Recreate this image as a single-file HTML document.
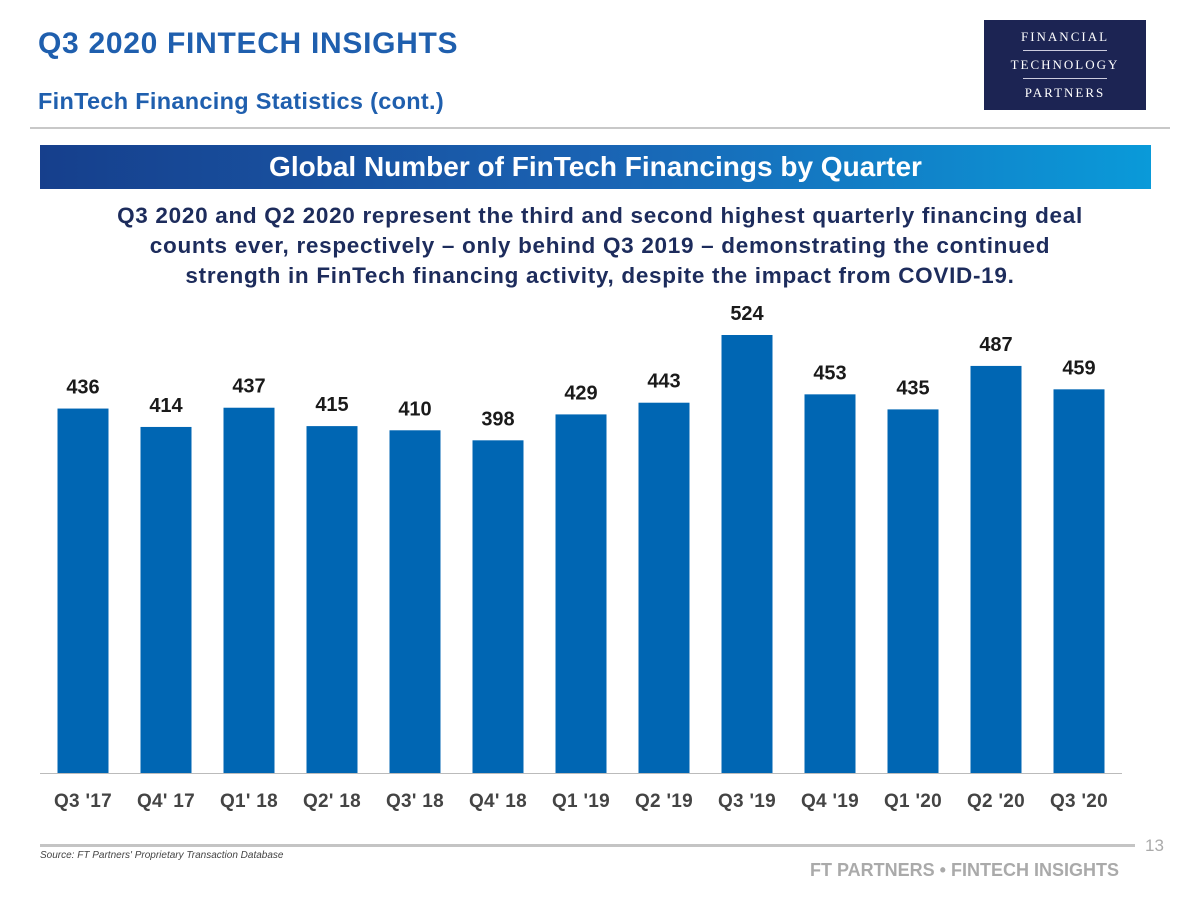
<!DOCTYPE html>
<html><head><meta charset="utf-8"><style>
body{margin:0;width:1200px;height:900px;background:#fff;position:relative;font-family:"Liberation Sans",sans-serif;overflow:hidden}
.abs{position:absolute}
</style></head><body>
<div class="abs" style="left:38px;top:27px;font-size:30px;font-weight:bold;color:#1f5fae;letter-spacing:0.7px">Q3 2020 FINTECH INSIGHTS</div>
<div class="abs" style="left:38px;top:88px;font-size:23.5px;font-weight:bold;color:#1f5fae;letter-spacing:0.3px">FinTech Financing Statistics (cont.)</div>
<div class="abs" style="left:984px;top:20px;width:162px;height:90px;background:#1c2453;color:#fff;font-family:'Liberation Serif',serif;font-size:13px;letter-spacing:2px;text-align:center">
 <div style="margin-top:9px">FINANCIAL</div>
 <div style="width:84px;height:1px;background:#ccd;margin:5px auto 6px"></div>
 <div>TECHNOLOGY</div>
 <div style="width:84px;height:1px;background:#ccd;margin:5px auto 6px"></div>
 <div>PARTNERS</div>
</div>
<div class="abs" style="left:30px;top:127px;width:1140px;height:2px;background:#c8c8c8"></div>
<div class="abs" style="left:40px;top:145px;width:1111px;height:44px;background:linear-gradient(90deg,#163f8c,#1a63b3 50%,#0a9ad9);color:#fff;font-size:28px;font-weight:bold;text-align:center;line-height:44px">Global Number of FinTech Financings by Quarter</div>
<div class="abs" style="left:40px;top:201px;width:1120px;text-align:center;font-size:22.5px;letter-spacing:0.7px;font-weight:bold;color:#1d2c5c;line-height:30px;white-space:nowrap">Q3 2020 and Q2 2020 represent the third and second highest quarterly financing deal<br>counts ever, respectively – only behind Q3 2019 – demonstrating the continued<br>strength in FinTech financing activity, despite the impact from COVID-19.</div>
<svg class="abs" style="left:0;top:0" width="1200" height="900">
<g id="bars"></g>
<line x1="40" y1="773.5" x2="1122" y2="773.5" stroke="#bbb" stroke-width="1"/>
</svg>
<div class="abs" style="left:40px;top:844px;width:1095px;height:3px;background:#c4c4c4"></div>
<div class="abs" style="left:1145px;top:836px;font-size:17px;color:#aaa">13</div>
<div class="abs" style="left:40px;top:850px;font-size:10px;font-style:italic;color:#444">Source: FT Partners' Proprietary Transaction Database</div>
<div class="abs" style="left:810px;top:860px;font-size:18px;font-weight:bold;color:#aaa">FT PARTNERS • FINTECH INSIGHTS</div>
<script>
const categories=["Q3 '17","Q4' 17","Q1' 18","Q2' 18","Q3' 18","Q4' 18","Q1 '19","Q2 '19","Q3 '19","Q4 '19","Q1 '20","Q2 '20","Q3 '20"];
const values=[436,414,437,415,410,398,429,443,524,453,435,487,459];
const NS="http://www.w3.org/2000/svg";
const g=document.getElementById('bars');
const base=773, k=438/524;
const xc=i=>83+i*83;
const y=v=>base-v*k;
values.forEach((v,i)=>{
 const r=document.createElementNS(NS,'rect');
 
 
 r.setAttribute('x',xc(i)-25.5);r.setAttribute('y',y(v));r.setAttribute('width',51);r.setAttribute('height',v*k);r.setAttribute('fill','#0066b3');
 g.appendChild(r);
 const t=document.createElementNS(NS,'text');
 
 
 t.setAttribute('x',xc(i));t.setAttribute('y',y(v)-15);t.setAttribute('text-anchor','middle');
 t.setAttribute('font-size','20');t.setAttribute('font-weight','bold');t.setAttribute('fill','#1a1a1a');
 t.setAttribute('font-family','Liberation Sans, sans-serif');t.textContent=v;g.appendChild(t);
 const c=document.createElementNS(NS,'text');
 
 
 c.setAttribute('x',xc(i));c.setAttribute('y',807);c.setAttribute('text-anchor','middle');
 c.setAttribute('font-size','19');c.setAttribute('font-weight','bold');c.setAttribute('fill','#444');
 c.setAttribute('letter-spacing','0.3');
 c.setAttribute('font-family','Liberation Sans, sans-serif');c.textContent=categories[i];g.appendChild(c);
});
</script>
</body></html>
